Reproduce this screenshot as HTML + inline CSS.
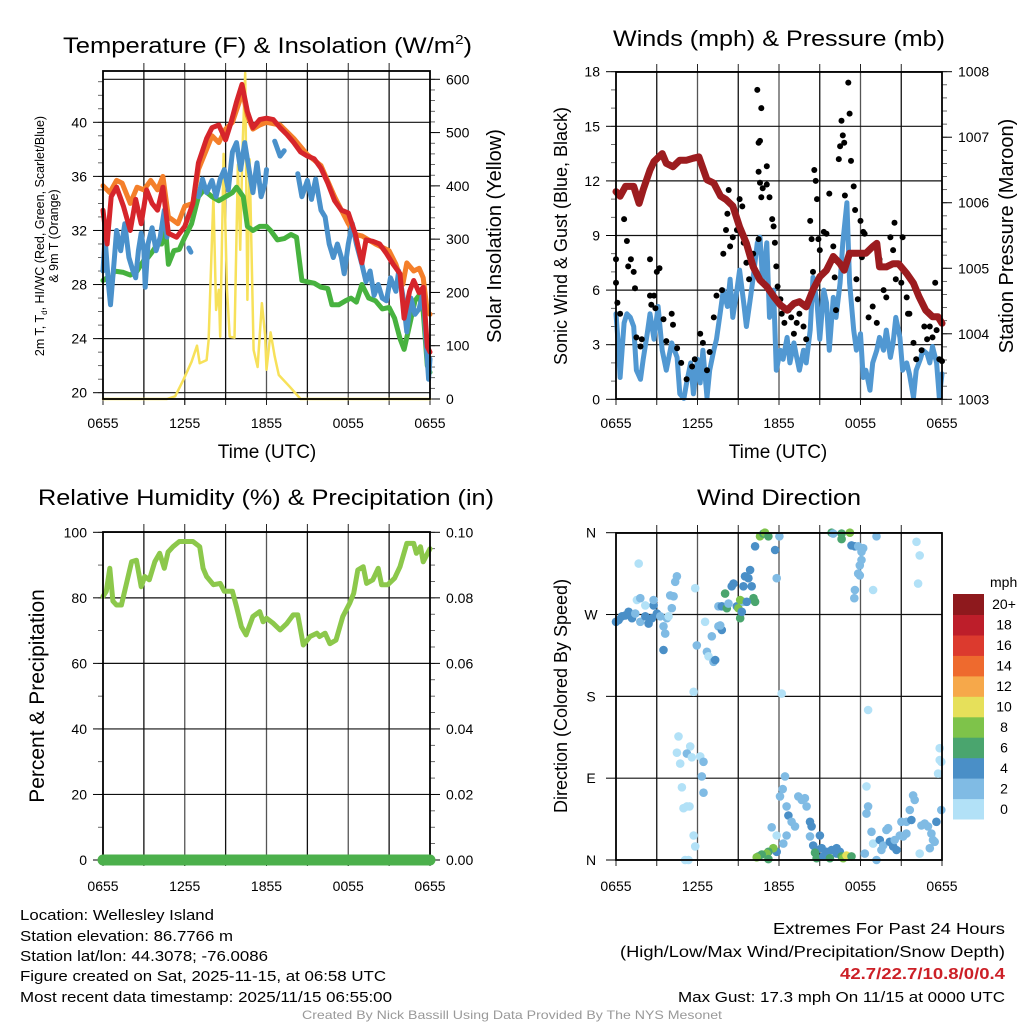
<!DOCTYPE html>
<html><head><meta charset="utf-8">
<style>
html,body{margin:0;padding:0;background:#fff;}
svg{display:block;font-family:"Liberation Sans",sans-serif;}
</style></head>
<body>
<svg id="fig" width="1024" height="1024" viewBox="0 0 1024 1024" xmlns="http://www.w3.org/2000/svg">
<rect x="0" y="0" width="1024" height="1024" fill="#fff"/>
<g id="p1"></g>
<g id="p2"></g>
<g id="p3"></g>
<g id="p4"></g>
<g id="texts">
<text x="63" y="53" font-size="22" textLength="409" lengthAdjust="spacingAndGlyphs">Temperature (F) &amp; Insolation (W/m<tspan font-size="13" dy="-9">2</tspan><tspan dy="9">)</tspan></text>
<text x="613" y="46" font-size="22" textLength="332" lengthAdjust="spacingAndGlyphs">Winds (mph) &amp; Pressure (mb)</text>
<text x="38" y="505" font-size="22" textLength="456" lengthAdjust="spacingAndGlyphs">Relative Humidity (%) &amp; Precipitation (in)</text>
<text x="697" y="505" font-size="22" textLength="164" lengthAdjust="spacingAndGlyphs">Wind Direction</text>

<text x="267" y="458" font-size="19" text-anchor="middle">Time (UTC)</text>
<text x="778" y="458" font-size="19" text-anchor="middle">Time (UTC)</text>

<text transform="translate(44,236) rotate(-90)" font-size="12.5" text-anchor="middle">2m T, T<tspan font-size="8" dy="3">d</tspan><tspan dy="-3">, HI/WC (Red, Green, Scarlet/Blue)</tspan></text>
<text transform="translate(58,236) rotate(-90)" font-size="12.5" text-anchor="middle">&amp; 9m T (Orange)</text>
<text transform="translate(501,236) rotate(-90)" font-size="20" text-anchor="middle">Solar Insolation (Yellow)</text>
<text transform="translate(567,236) rotate(-90)" font-size="18" text-anchor="middle">Sonic Wind &amp; Gust (Blue, Black)</text>
<text transform="translate(1013,236) rotate(-90)" font-size="20" text-anchor="middle">Station Pressure (Maroon)</text>
<text transform="translate(44,696) rotate(-90)" font-size="21" text-anchor="middle">Percent &amp; Precipitation</text>
<text transform="translate(567,696) rotate(-90)" font-size="18" text-anchor="middle">Direction (Colored By Speed)</text>

<text x="20" y="920" font-size="15" textLength="194" lengthAdjust="spacingAndGlyphs">Location: Wellesley Island</text>
<text x="20" y="941" font-size="15" textLength="213" lengthAdjust="spacingAndGlyphs">Station elevation: 86.7766 m</text>
<text x="20" y="961" font-size="15" textLength="248" lengthAdjust="spacingAndGlyphs">Station lat/lon: 44.3078; -76.0086</text>
<text x="20" y="981" font-size="15" textLength="366" lengthAdjust="spacingAndGlyphs">Figure created on Sat, 2025-11-15, at 06:58 UTC</text>
<text x="20" y="1002" font-size="15" textLength="372" lengthAdjust="spacingAndGlyphs">Most recent data timestamp: 2025/11/15 06:55:00</text>

<text x="773" y="934" font-size="16" textLength="232" lengthAdjust="spacingAndGlyphs">Extremes For Past 24 Hours</text>
<text x="620" y="957" font-size="16" textLength="385" lengthAdjust="spacingAndGlyphs">(High/Low/Max Wind/Precipitation/Snow Depth)</text>
<text x="840" y="979" font-size="16" font-weight="bold" fill="#cc2027" textLength="165" lengthAdjust="spacingAndGlyphs">42.7/22.7/10.8/0/0.4</text>
<text x="678" y="1002" font-size="15" textLength="327" lengthAdjust="spacingAndGlyphs">Max Gust: 17.3 mph On 11/15 at 0000 UTC</text>
<text x="302" y="1019" font-size="12" fill="#999" textLength="420" lengthAdjust="spacingAndGlyphs">Created By Nick Bassill Using Data Provided By The NYS Mesonet</text>
</g>
</svg>
<script>
// ---------- DATA ----------
const xTickLabels = ["0655","1255","1855","0055","0655"];
const tempTicks = [20,24,28,32,36,40];
const solarTicks = [0,100,200,300,400,500,600];
const windTicks = [0,3,6,9,12,15,18];
const pressTicks = [1003,1004,1005,1006,1007,1008];
const rhTicks = [0,20,40,60,80,100];
const precipTickLabels = ["0.00","0.02","0.04","0.06","0.08","0.10"];
const dirTicks = [0,90,180,270,360];
const dirTickLabels = ["N","E","S","W","N"];

const tempRed = [[0,33.5],[0.3,31],[0.6,34.5],[1,35.2],[1.5,33.8],[2,32],[2.4,34.3],[2.8,32.5],[3.2,35],[3.6,34],[4,33.5],[4.4,35.2],[4.8,31.8],[5.4,31.5],[6,32.3],[6.6,34],[7,37],[7.6,38.8],[8,39.6],[8.5,39.8],[9,38.7],[9.4,40],[9.8,41.5],[10.2,42.8],[10.6,40.8],[11,39.6],[11.5,40.2],[12,40.3],[12.5,40.2],[13,39.6],[13.5,39.1],[14,38.5],[14.5,37.8],[15,37.5],[15.5,37.3],[16,36.6],[16.5,35.5],[17,34.2],[17.5,33.5],[18,33.3],[18.5,31.8],[19,29.6],[19.3,31.3],[19.8,31.2],[20.3,31],[20.8,30.3],[21.3,29.5],[21.8,28.8],[22.1,25.5],[22.5,27.5],[22.8,28.3],[23.2,27.4],[23.5,27.8],[23.8,23.4],[24,23]];
const tempOrange = [[0,35.3],[0.5,34.8],[1,35.7],[1.4,35.5],[2,34],[2.5,35.2],[3,35],[3.5,35.7],[4,35],[4.4,36],[4.8,33],[5.5,32.5],[6,33.8],[6.6,34],[7,36.5],[7.6,38],[8,39],[8.5,38.5],[9,39.5],[9.5,40],[10,41.5],[10.2,42.5],[10.6,40.5],[11,39.5],[11.5,39.8],[12,40],[13,39.8],[14,38.8],[15,37.6],[16,36.8],[17,34.5],[18,32.5],[18.5,31.7],[19,31.6],[20,31],[21,30.5],[21.5,29.5],[22,28],[22.3,29.6],[22.8,29],[23.2,29.2],[23.5,28.5],[23.8,26],[24,25.8]];
const tempGreen = [[0,28.3],[0.3,28.5],[0.5,27.8],[0.8,29],[1.5,28.9],[2,28.7],[2.5,29],[3,29.8],[3.3,30],[3.6,30.4],[4,31],[4.3,31],[4.6,32],[4.8,29.5],[5.2,30.5],[5.6,30.6],[6,31.5],[6.5,32.5],[7,34.5],[7.4,35],[8,34.5],[8.5,34.2],[9,34.5],[9.5,34.8],[9.8,35.2],[10.3,34.5],[10.6,32.3],[11,32],[11.5,32.3],[12,32.3],[12.3,32],[12.8,31.3],[13.3,31.4],[13.8,31.7],[14.2,31.5],[14.6,28.3],[15,28.2],[15.5,28.1],[16,27.8],[16.5,27.7],[16.8,26.5],[17.3,26.5],[17.8,26.8],[18.2,27],[18.6,26.7],[19,28],[19.5,27],[20,26.8],[20.5,26.2],[21,26.3],[21.4,25.5],[21.8,24],[22.1,23.2],[22.5,25],[22.9,26.8],[23.2,27.2],[23.5,26],[23.8,22],[24,21.5]];
const tempBlue = [[0,29],[0.15,31.5],[0.4,28],[0.55,26.5],[0.8,29.5],[1,32],[1.3,30.5],[1.6,32.5],[1.9,30],[2.2,29],[2.4,28.5],[2.6,30.5],[2.8,31.8],[3,30.5],[3.1,27.8],[3.3,31],[3.6,32.2],[3.9,30.5],[4.2,31.5],[4.5,33.5],[4.7,31.5],null,[6.3,30.7],[6.45,30.4],null,[7,34.5],[7.3,35.8],[7.6,34.8],[8,35.7],[8.3,34.5],[8.6,35.8],[8.9,36.5],[9.2,35],[9.5,37.8],[9.8,38.5],[10.1,36.5],[10.4,38.5],[10.8,36],[11,34.8],[11.3,37],[11.6,34.5],[11.9,35.5],[12,36.5],null,[12.6,38.6],[13,37.5],[13.3,37.9],null,[14.3,36.2],[14.6,34.5],[15,35.7],[15.3,34.3],[15.6,35.8],[16,33.5],[16.3,33],[16.6,31],[16.9,30],[17.2,31],[17.5,30],[17.7,28.8],[18,31],[18.3,32.5],[18.6,31],[19,29.5],[19.3,28.2],[19.6,29],[19.9,27.2],[20.2,28],[20.5,27],[20.8,26.8],[21.1,28.5],[21.5,27.5],[21.7,29],[22,27.2],[22.3,24.5],[22.6,27],[22.9,25.8],[23.2,26.2],[23.5,27.5],[23.7,24],[23.9,21],[24,22.5]];
const solar = [[0,0],[4.7,0],[5.3,5],[5.9,36],[6.5,70],[6.9,100],[7.1,67],[7.6,73],[7.75,110],[8.1,380],[8.3,167],[8.5,205],[8.6,117],[8.85,460],[9.1,205],[9.3,117],[9.65,115],[9.9,440],[10.07,280],[10.24,470],[10.44,612],[10.6,186],[10.76,450],[11.05,92],[11.35,60],[11.66,180],[11.9,120],[12.0,55],[12.3,125],[12.6,80],[12.9,45],[13.7,23],[14.5,0],[24,0]];

const windSpeed = [[0,4.7],[0.2,2.7],[0.3,1.2],[0.6,4.2],[0.8,4.7],[1.05,4.5],[1.3,4.0],[1.5,1.6],[1.8,1.1],[2.0,2.2],[2.3,3.6],[2.5,4.7],[2.8,3.3],[3.1,5.1],[3.4,2.7],[3.7,1.6],[4.1,3.1],[4.5,2.3],[4.7,0.3],[5.0,0.05],[5.2,0.9],[5.5,2.0],[5.7,0.3],[6.0,2.2],[6.2,0.9],[6.4,2.7],[6.7,0.1],[6.9,1.6],[7.2,2.7],[7.4,3.3],[7.7,4.9],[7.9,6.0],[8.2,5.1],[8.4,6.6],[8.6,4.5],[8.9,6.0],[9.1,7.1],[9.4,5.3],[9.6,4.0],[9.9,5.6],[10.1,6.7],[10.4,8.6],[10.6,8.9],[10.8,6.4],[11.1,8.6],[11.3,4.5],[11.6,6.0],[11.8,1.6],[12.1,2.7],[12.3,2.2],[12.6,3.4],[12.8,2.0],[13.1,3.1],[13.3,2.3],[13.5,1.6],[13.8,2.7],[14.0,2.0],[14.3,3.8],[14.5,6.7],[14.8,5.3],[15.0,3.3],[15.3,6.0],[15.5,5.3],[15.7,2.7],[16.0,5.6],[16.2,4.5],[16.5,6.4],[16.7,8.6],[17.0,10.8],[17.2,6.4],[17.5,3.8],[17.7,2.7],[18.0,3.6],[18.2,1.2],[18.4,1.6],[18.7,0.5],[18.9,2.0],[19.2,2.7],[19.4,3.4],[19.7,2.7],[19.9,3.8],[20.2,2.3],[20.4,3.1],[20.6,4.5],[20.9,3.4],[21.1,1.6],[21.4,2.0],[21.6,1.4],[21.9,0.1],[22.1,1.6],[22.4,2.2],[22.6,2.7],[22.9,2.5],[23.1,2.0],[23.3,2.9],[23.6,2.0],[23.8,0.1],[24,1.4]];
const gusts = [[0,7.7],[0,6.4],[0.1,5.3],[0.3,4.7],[0.6,9.9],[0.8,8.7],[0.9,7.3],[1.1,7.7],[1.3,7.0],[1.4,6.1],[1.5,3.4],[1.8,2.9],[1.9,3.3],[2.5,7.7],[2.5,5.7],[2.6,5.2],[2.8,5.7],[2.9,5.0],[3.0,7.0],[3.2,7.2],[3.5,4.4],[3.7,3.2],[4.1,4.7],[4.2,4.1],[4.5,2.8],[4.8,2.0],[5.2,1.1],[5.6,1.8],[5.8,2.2],[6.2,3.6],[6.4,3.1],[6.7,1.6],[6.9,2.6],[7.2,4.5],[7.4,5.7],[7.8,6.0],[7.9,8.0],[8.1,9.3],[8.2,10.2],[8.3,11.5],[8.4,8.4],[8.6,8.9],[8.9,9.3],[9.1,11.0],[9.3,10.6],[9.4,8.6],[9.6,7.5],[9.8,6.6],[10.1,8.0],[10.5,8.8],[10.6,11.9],[10.7,11.1],[10.8,11.6],[11.1,11.8],[10.4,17.0],[10.7,16.0],[10.5,14.1],[10.6,14.2],[10.5,12.5],[11.1,12.8],[11.3,11.1],[11.5,9.9],[11.6,9.5],[11.7,8.6],[11.8,7.3],[11.9,6.2],[12.1,5.5],[12.2,4.7],[12.4,4.2],[12.7,4.9],[12.9,4.5],[13.1,3.6],[13.3,4.2],[13.5,4.7],[13.8,4.0],[14.0,3.3],[14.3,9.8],[14.4,8.8],[14.5,7.0],[14.6,12.6],[14.7,12.0],[14.8,11.0],[14.9,8.8],[15.0,8.2],[15.3,9.2],[15.5,9.1],[15.7,11.3],[16.0,8.4],[16.1,6.7],[16.2,4.9],[16.4,13.2],[16.5,13.9],[16.6,15.3],[16.7,14.5],[16.8,14.1],[17.1,17.4],[17.2,15.7],[16.85,11.2],[17.3,13.1],[17.5,11.7],[17.6,10.4],[17.7,6.6],[17.8,5.5],[18.0,9.8],[18.1,7.8],[18.2,9.2],[18.3,9.1],[18.6,4.5],[18.9,5.1],[19.2,4.2],[19.4,7.7],[19.7,6.0],[19.9,5.6],[20.2,8.9],[20.5,9.7],[20.4,8.2],[20.6,6.6],[21.0,6.4],[21.1,8.9],[21.4,5.6],[21.5,4.7],[21.6,4.7],[21.9,3.1],[22.1,2.2],[22.5,2.7],[22.7,4.0],[22.9,3.3],[23.1,4.0],[23.3,3.4],[23.5,6.4],[23.6,3.8],[23.8,2.2],[24,2.1]];
const pressure = [[0,1006.17],[0.3,1006.1],[0.7,1006.25],[1.3,1006.25],[1.7,1005.99],[2.0,1006.2],[2.5,1006.5],[2.8,1006.63],[3.4,1006.75],[3.7,1006.6],[4.2,1006.55],[4.7,1006.65],[5.2,1006.65],[5.7,1006.68],[6.1,1006.7],[6.7,1006.35],[7.2,1006.3],[7.7,1006.1],[8.1,1006.05],[8.6,1005.95],[9.1,1005.63],[9.6,1005.38],[10.1,1005.02],[10.6,1004.82],[11.1,1004.72],[11.6,1004.57],[12.1,1004.44],[12.6,1004.36],[13.1,1004.46],[13.5,1004.49],[14.0,1004.41],[14.5,1004.67],[15.0,1004.87],[15.5,1004.97],[16.0,1005.18],[16.5,1005.07],[16.8,1004.97],[17.2,1005.23],[17.9,1005.23],[18.4,1005.23],[18.9,1005.33],[19.2,1005.38],[19.4,1005.02],[19.9,1005.02],[20.4,1005.07],[20.8,1005.07],[21.4,1004.92],[21.9,1004.77],[22.3,1004.57],[22.8,1004.36],[23.3,1004.26],[23.7,1004.26],[24,1004.16]];

const rh = [[0,80.4],[0.24,82],[0.5,89],[0.73,79],[0.98,77.8],[1.35,77.8],[1.7,84],[2.1,91],[2.45,91.5],[2.8,83.4],[3.06,86.5],[3.4,85.5],[3.8,91],[4.16,93.6],[4.5,89],[4.78,94],[5.14,95.6],[5.6,97.2],[6.1,97.2],[6.6,97.2],[7.1,95.6],[7.35,89],[7.6,86.5],[8.1,84],[8.6,84.4],[8.9,82],[9.5,82],[9.8,77.3],[10.16,71.2],[10.5,68.7],[11.0,74.3],[11.5,75.8],[11.75,72.7],[12.0,73.8],[12.5,72.2],[13.0,70.2],[13.5,72.2],[13.96,74.8],[14.3,74.8],[14.7,65.6],[15.2,68.2],[15.7,69.2],[15.9,68.2],[16.3,69.2],[16.65,66],[17.1,67.1],[17.6,74.3],[18.1,78.3],[18.4,81.4],[18.7,88.5],[19.1,89.5],[19.35,84.4],[19.8,85.5],[20.2,89],[20.45,84],[20.9,84],[21.4,86],[21.8,89.5],[22.3,96.6],[22.8,96.6],[23.0,93.6],[23.3,95.6],[23.5,91],[24,95]];
const precip = [[0,0],[24,0]];

const speedBinColors = ["#b2e1f7","#80bbe4","#4a8fc7","#4aa56e","#7ec34a","#e6e05a","#f6a84a","#ee6a2e","#dc3a2e","#bd1e2a","#8e191d"];
const speedBinLabels = ["0","2","4","6","8","10","12","14","16","18","20+"];
const windDir = [[0,262,2],[0.2,264,2],[0.44,268,2],[0.69,269,2],[0.93,273,2],[1.18,266,2],[1.42,271,1],[1.79,262,1],[2.16,268,2],[2.4,260,2],[2.65,266,2],[2.77,280,2],[3.01,271,2],[3.26,268,1],[3.5,257,1],[3.62,249,1],[3.75,266,1],[3.87,268,0],[1.67,326,0],[1.54,286,0],[1.79,288,1],[2.16,280,0],[2.77,286,1],[3.5,231,2],[4.11,277,1],[3.99,291,1],[4.24,290,1],[4.36,306,1],[4.48,312,1],[5.83,299,0],[5.95,236,1],[6.56,262,0],[6.69,229,1],[6.81,224,0],[7.05,246,1],[7.18,218,1],[7.3,220,2],[7.54,257,1],[7.79,253,2],[7.67,258,1],[7.54,279,1],[7.79,279,2],[8.03,293,3],[8.16,277,3],[8.28,282,1],[8.52,301,2],[8.65,304,2],[8.89,279,2],[9.01,277,4],[9.14,266,3],[9.26,273,2],[9.38,284,1],[9.14,286,4],[9.38,301,2],[9.5,312,2],[9.75,310,2],[9.87,319,2],[9.99,301,2],[10.12,288,3],[10.24,284,3],[9.63,284,2],[10.24,345,2],[10.6,356,4],[10.85,359,3],[10.97,360,4],[11.22,356,3],[11.71,341,2],[11.83,310,1],[12.03,356,1],
[5.71,185,0],[12.2,183,0],[4.6,136,0],[5.46,125,0],[4.48,118,0],[5.22,117,1],[5.58,113,0],[6.2,114,0],[6.44,108,1],[4.73,106,0],[6.32,92,1],[6.44,74,1],[4.85,80,0],[4.97,57,0],[5.22,59,0],[5.41,59,0],[5.71,27,0],[5.83,15,0],[5.09,0,0],[5.34,0,0],
[12.44,92,1],[12.27,78,1],[12.07,70,1],[12.56,59,1],[12.69,49,2],[12.93,42,1],[13.18,37,1],[13.42,70,1],[13.67,66,1],[13.91,68,1],[14.03,59,1],[14.28,42,2],[14.4,37,2],[15.01,27,2],[14.28,26,1],[14.52,16,2],[14.77,11,2],[15.14,13,2],[15.5,9,2],[15.87,11,2],[16.24,13,2],[16.48,9,2],[11.83,27,0],[11.46,36,1],[12.56,27,1],[12.32,18,1],[11.83,9,2],[11.58,13,4],[11.22,9,3],[11.09,7,4],[10.73,6,3],[10.48,4,3],[10.36,3,4],[11.22,1,3],[14.65,8,3],[14.77,2,3],[15.26,4,2],[15.75,2,3],[16.24,7,2],[16.61,4,3],[16.73,2,4],[16.97,5,5],[17.34,4,3],
[15.87,360,3],[15.99,359,1],[16.61,359,3],[16.61,353,3],[17.22,360,4],[17.34,346,2],[17.59,345,2],[17.83,345,1],[18.07,339,1],[18.2,343,1],[18.07,330,1],[17.95,324,1],[17.83,315,1],[17.95,313,1],[17.59,297,1],[17.54,288,1],[19.18,356,1],[22.12,350,0],[22.36,335,0],[22.24,304,0],[18.93,297,0],[18.56,165,0],[18.44,81,0],[18.56,59,1],[18.44,51,1],[18.81,31,1],[18.93,18,0],[18.32,7,1],[19.18,0,1],[19.42,22,2],[19.54,11,1],[19.67,16,1],[19.91,33,1],[20.03,35,1],[20.16,20,2],[20.4,15,2],[20.65,11,2],[20.52,22,1],[20.89,27,1],[21.14,26,1],[21.38,29,1],[21.01,42,1],[21.38,42,1],[21.63,55,1],[21.87,71,1],[21.99,66,1],[21.75,44,2],[22.36,7,0],[22.48,38,1],[22.73,40,1],[22.97,37,1],[23.1,13,1],[23.22,29,1],[23.34,22,1],[23.46,20,1],[23.59,42,2],[23.71,95,0],[23.83,110,0],[23.83,123,0],[23.95,108,0],[23.95,55,1]];

// ---------- DRAWING ----------
const NS = "http://www.w3.org/2000/svg";
function mk(parent, tag, attrs, text){
  const e = document.createElementNS(NS, tag);
  for (const k in attrs) e.setAttribute(k, attrs[k]);
  if (text !== undefined) e.textContent = text;
  parent.appendChild(e);
  return e;
}
function lin(d0,d1,r0,r1){ return v => r0 + (v-d0)/(d1-d0)*(r1-r0); }

function frame(g, box, xs, opts){
  const grid = mk(g,'g',{});
  
  
  for (let h=3; h<24; h+=3){
    const x = xs(h);
    const l = mk(grid,'line',{x1:x,x2:x,y1:box.t,y2:box.b,stroke:(h%6===0)?'#555':'#111','stroke-width':1.3});
    
    
    mk(grid,'line',{x1:x,x2:x,y1:box.b,y2:box.b+6,stroke:'#222','stroke-width':1});
    if (opts.topTicks) mk(grid,'line',{x1:x,x2:x,y1:box.t-8,y2:box.t,stroke:'#222','stroke-width':1});
  }
  opts.hLines.forEach(y=>{
    const l = mk(grid,'line',{x1:box.l,x2:box.r,y1:y,y2:y,stroke:'#111','stroke-width':1.2});
    
    
  });
  xTickLabels.forEach((lab,i)=>{
    const x = xs(i*6);
    mk(grid,'line',{x1:x,x2:x,y1:box.b,y2:box.b+6,stroke:'#222','stroke-width':1});
    const t = mk(g,'text',{x:x,y:opts.xLabY,'font-size':14,'text-anchor':'middle'},lab);
    
    
  });
}
function border(g, box){
  const r = mk(g,'rect',{x:box.l,y:box.t,width:box.r-box.l,height:box.b-box.t,fill:'none',stroke:'#000','stroke-width':1.8});
  
  
}
function yAxis(g, box, ys, ticks, labels, side, minorStep, minorRange){
  const x0 = side==='l'? box.l : box.r;
  const dir = side==='l'? -1 : 1;
  if (minorStep){
    for (let v=minorRange[0]; v<=minorRange[1]+1e-9; v+=minorStep){
      const y = ys(v);
      if (y<box.t-0.5||y>box.b+0.5) continue;
      mk(g,'line',{x1:x0,x2:x0+dir*5,y1:y,y2:y,stroke:'#444','stroke-width':0.8});
    }
  }
  ticks.forEach((v,i)=>{
    const y = ys(v);
    mk(g,'line',{x1:x0,x2:x0+dir*10,y1:y,y2:y,stroke:'#000','stroke-width':1});
    const t = mk(g,'text',{x:x0+dir*16,y:y+5,'font-size':14,'text-anchor':side==='l'?'end':'start'},labels[i]);
    
    
  });
}
function path(g, pts, xs, ys, color, w, name){
  let d='', pen=false;
  pts.forEach(p=>{
    if (!p){ pen=false; return; }
    d += (pen?'L':'M') + xs(p[0]).toFixed(1)+','+ys(p[1]).toFixed(1);
    pen=true;
  });
  const e = mk(g,'path',{d:d,fill:'none',stroke:color,'stroke-width':w,'stroke-linejoin':'round','stroke-linecap':'round'});
  
  
  return e;
}

// Panel 1
(function(){
  const g = document.getElementById('p1');
  const box = {l:103,r:430,t:71,b:399};
  const xs = lin(0,24,box.l,box.r);
  const ys = lin(20,40,392.7,122.3);
  const ss = lin(0,600,399,79.3);
  frame(g, box, xs, {topTicks:true, xLabY:428, hLines: tempTicks.map(ys).concat([ss(600)])});
  yAxis(g, box, ys, tempTicks, tempTicks.map(String), 'l', 1, [19,44]);
  yAxis(g, box, ss, solarTicks, solarTicks.map(String), 'r', 20, [0,600]);
  path(g, solar, xs, ss, '#f7e15a', 2.5, 'solar-line');
  path(g, tempOrange, xs, ys, '#f47f2a', 5, 'temp-9m-line');
  path(g, tempGreen, xs, ys, '#47b23f', 5, 'dewpoint-line');
  path(g, tempBlue, xs, ys, '#4a91cb', 5, 'windchill-line');
  path(g, tempRed, xs, ys, '#d6252b', 5, 'temp-2m-line');
  border(g, box);
})();

// Panel 2
(function(){
  const g = document.getElementById('p2');
  const box = {l:616,r:942,t:72,b:399};
  const xs = lin(0,24,box.l,box.r);
  const ys = lin(0,18,399.3,71.7);
  const ps = lin(1003,1008,399.3,71.7);
  frame(g, box, xs, {topTicks:true, xLabY:428, hLines: windTicks.map(ys)});
  yAxis(g, box, ys, windTicks, windTicks.map(String), 'l', 1, [0,18]);
  yAxis(g, box, ps, pressTicks, pressTicks.map(String), 'r', 0.2, [1003,1008]);
  path(g, windSpeed, xs, ys, '#5198d2', 5, 'wind-speed-line');
  gusts.forEach(p=>{
    const c = mk(g,'circle',{cx:xs(p[0]).toFixed(1),cy:ys(p[1]).toFixed(1),r:3,fill:'#000'});
    
    
  });
  path(g, pressure, xs, ps, '#9c1c1f', 7, 'pressure-line');
  border(g, box);
})();

// Panel 3
(function(){
  const g = document.getElementById('p3');
  const box = {l:103,r:430,t:532,b:860};
  const xs = lin(0,24,box.l,box.r);
  const ys = lin(0,100,860,532.3);
  frame(g, box, xs, {topTicks:true, xLabY:891, hLines: rhTicks.map(ys)});
  yAxis(g, box, ys, rhTicks, rhTicks.map(String), 'l', 10, [0,100]);
  yAxis(g, box, ys, rhTicks, precipTickLabels, 'r', 5, [0,100]);
  path(g, rh, xs, ys, '#8cc84b', 5, 'humidity-line');
  border(g, box);
  path(g, precip, xs, ys, '#4cb04c', 11, 'precip-line');
})();

// Panel 4
(function(){
  const g = document.getElementById('p4');
  const box = {l:616,r:942,t:533,b:860};
  const xs = lin(0,24,box.l,box.r);
  const ys = lin(0,360,860,532.7);
  frame(g, box, xs, {topTicks:true, xLabY:891, hLines: dirTicks.map(ys)});
  dirTicks.forEach((v,i)=>{
    const y = ys(v);
    mk(g,'line',{x1:box.l-10,x2:box.l,y1:y,y2:y,stroke:'#000','stroke-width':1});
    const t = mk(g,'text',{x:591,y:y+5,'font-size':14,'text-anchor':'middle'},dirTickLabels[i]);
    
    
  });
  windDir.forEach(p=>{
    const c = mk(g,'circle',{cx:xs(p[0]).toFixed(1),cy:ys(p[1]).toFixed(1),r:4.3,fill:speedBinColors[p[2]]});
    
    
  });
  border(g, box);
  const cb = mk(g,'g',{});
  
  
  const cTop=594, cBot=819, n=speedBinColors.length, h=(cBot-cTop)/n;
  for (let i=0;i<n;i++){
    const y = cBot - (i+1)*h;
    const r = mk(cb,'rect',{x:953,y:y.toFixed(1),width:31,height:(h+0.5).toFixed(1),fill:speedBinColors[i]});
    
    
    const t = mk(cb,'text',{x:1004,y:(y+h/2+5).toFixed(1),'font-size':14,'text-anchor':'middle'},speedBinLabels[i]);
    
    
  }
  const u = mk(cb,'text',{x:990,y:587,'font-size':14},'mph');
  
  
})();
</script>
</body></html>
